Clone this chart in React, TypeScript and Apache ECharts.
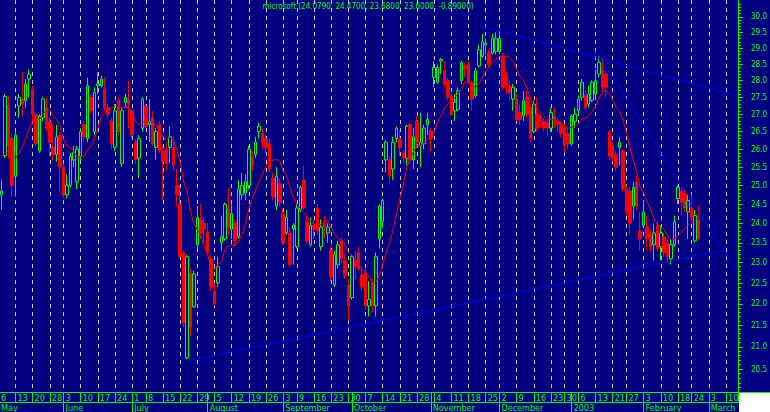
import React, { useEffect, useRef } from "react";
import * as echarts from "echarts";

const TITLE = "microsoft (24.0790, 24.4700, 23.6800, 23.6000, -0.89000)";
const FIRST_DAY = "2002-05-07";
const LAST_DAY = "2003-03-13";
const HOLIDAYS = ["2002-05-27", "2002-07-04", "2002-09-02", "2002-11-28", "2002-12-25", "2003-01-01", "2003-01-20", "2003-02-17"];
const MONTH_LABELS = ["2003", "February", "March", "April", "May", "June", "July", "August", "September", "October", "November", "December"];
const Y_TICKS = [20.5, 21.0, 21.5, 22.0, 22.5, 23.0, 23.5, 24.0, 24.5, 25.0, 25.5, 26.0, 26.5, 27.0, 27.5, 28.0, 28.5, 29.0, 29.5, 30.0];
const Y_MIN = 20.0;
const Y_MAX = 30.55;
const MA_PERIOD = 10;
const PRIOR_CLOSES = [26.6, 26.4, 26.4, 26.2, 26.1, 25.7, 25.5, 25.3, 25.1];

const OPEN = [
  24.75, 25.82, 27.26, 26.30, 25.25, 27.25, 27.45, 27.40, 28.05, 27.75,
  27.00, 25.95, 26.90, 27.20, 26.80, 26.05, 25.85, 26.40, 25.50, 24.75,
  25.00, 25.70, 25.10, 25.80, 26.70, 26.30, 27.50, 26.50, 27.85, 27.85,
  27.75, 27.20, 26.80, 26.05, 27.40, 25.60, 27.35, 27.40, 27.10, 26.20,
  25.75, 26.60, 27.25, 26.70, 26.90, 26.05, 26.70, 25.95, 26.00, 26.05,
  26.05, 25.00, 24.50, 23.25, 20.75, 22.75, 21.93, 23.45, 24.08, 24.00,
  23.78, 23.08, 22.30, 22.50, 23.50, 23.60, 24.40, 23.85, 24.00, 23.65,
  24.75, 24.80, 25.00, 25.80, 25.85, 26.50, 26.45, 26.30, 26.15, 25.20,
  24.45, 25.05, 24.25, 23.75, 23.75, 23.85, 23.40, 24.35, 25.15, 24.05,
  23.45, 23.95, 24.40, 23.40, 24.00, 23.75, 23.30, 22.45, 22.95, 23.55,
  23.05, 22.45, 22.15, 23.05, 23.25, 22.70, 22.75, 21.95, 22.50, 21.95,
  23.60, 24.05, 25.70, 25.70, 25.45, 26.30, 26.30, 25.90, 25.75, 26.70,
  25.70, 26.80, 26.10, 26.15, 26.70, 26.50, 28.10, 27.95, 28.60, 28.30,
  28.00, 27.55, 27.10, 27.15, 28.00, 28.45, 28.50, 27.95, 27.55, 28.45,
  28.75, 29.10, 28.85, 28.85, 28.90, 28.90, 28.75, 28.15, 27.85, 27.45,
  27.45, 27.05, 26.95, 27.50, 27.20, 26.50, 27.00, 26.95, 26.80, 26.75,
  26.60, 26.95, 26.80, 26.70, 26.60, 26.45, 26.15, 26.80, 27.10, 27.50,
  27.55, 27.30, 27.40, 27.60, 28.20, 28.30, 28.20, 26.50, 26.10, 25.85,
  26.05, 25.95, 24.90, 24.85, 24.45, 25.10, 23.80, 23.95, 23.90, 23.70,
  23.45, 23.95, 23.40, 23.65, 23.50, 23.10, 23.45, 24.65, 24.85, 24.80,
  24.30, 24.40, 23.55, 24.08,
];
const CLOSE = [
  24.85, 27.53, 26.10, 25.00, 26.40, 27.50, 27.30, 27.90, 28.20, 27.00,
  26.15, 26.95, 27.45, 26.60, 26.20, 25.85, 26.35, 25.50, 24.75, 25.00,
  25.80, 25.90, 26.00, 26.50, 26.35, 27.85, 27.10, 27.65, 27.90, 28.05,
  27.20, 27.00, 26.15, 27.10, 26.50, 27.10, 27.50, 27.30, 26.40, 25.70,
  26.30, 27.45, 26.65, 26.80, 26.15, 26.50, 25.95, 25.65, 25.60, 26.35,
  25.55, 24.75, 23.15, 21.55, 23.15, 21.45, 22.72, 24.15, 23.75, 23.85,
  23.25, 22.40, 22.00, 22.90, 23.65, 24.50, 23.90, 24.25, 23.55, 24.90,
  25.00, 25.10, 26.00, 25.55, 26.20, 26.65, 26.20, 26.05, 25.45, 24.70,
  25.25, 24.55, 23.50, 24.15, 22.95, 23.95, 24.40, 24.95, 24.40, 23.55,
  23.95, 23.85, 23.80, 23.90, 23.90, 23.90, 22.65, 23.20, 23.45, 23.10,
  22.70, 21.95, 23.15, 22.90, 22.85, 22.40, 21.95, 22.10, 21.95, 23.15,
  24.45, 24.60, 26.20, 25.25, 26.20, 26.60, 26.05, 25.75, 26.65, 25.70,
  26.35, 26.20, 26.20, 26.60, 26.85, 26.30, 28.40, 28.40, 28.65, 27.90,
  27.50, 27.00, 27.35, 27.70, 28.55, 28.35, 27.95, 27.45, 28.30, 28.95,
  29.20, 29.15, 28.50, 29.30, 29.30, 29.30, 27.80, 27.85, 27.65, 27.80,
  26.85, 26.85, 27.40, 27.00, 26.30, 27.30, 26.60, 26.80, 26.60, 26.60,
  27.05, 26.85, 26.70, 26.45, 26.10, 26.15, 26.95, 27.00, 27.45, 27.95,
  27.20, 27.60, 27.95, 28.00, 28.55, 27.80, 27.80, 25.80, 25.75, 25.50,
  26.20, 24.90, 24.30, 24.00, 24.95, 24.45, 23.60, 24.30, 23.60, 23.40,
  23.75, 23.35, 23.75, 23.25, 23.15, 23.45, 24.05, 24.95, 24.55, 24.40,
  24.60, 24.15, 24.20, 23.60,
];
const LOW = [
  24.35, 25.75, 25.74, 24.70, 24.70, 26.90, 26.95, 27.20, 27.50, 26.80,
  26.10, 25.90, 26.80, 26.50, 25.80, 25.70, 25.65, 24.85, 24.65, 24.65,
  24.95, 25.50, 24.90, 25.70, 26.20, 26.20, 27.00, 26.40, 27.60, 27.80,
  27.10, 26.90, 26.00, 25.95, 26.40, 25.50, 27.20, 26.60, 26.30, 25.60,
  25.20, 26.50, 26.60, 26.20, 26.10, 25.70, 25.90, 24.60, 25.40, 25.60,
  25.40, 24.45, 23.10, 21.45, 20.72, 21.25, 21.90, 23.35, 23.60, 23.50,
  23.20, 22.30, 21.95, 22.40, 23.30, 23.55, 23.70, 23.60, 23.45, 23.60,
  24.60, 24.60, 24.90, 25.40, 25.75, 26.30, 26.00, 25.90, 25.35, 24.60,
  24.35, 24.45, 23.45, 23.70, 22.90, 22.95, 23.35, 24.30, 24.35, 23.50,
  23.40, 23.60, 23.70, 23.30, 23.60, 23.50, 22.55, 22.40, 22.85, 23.00,
  22.60, 21.60, 22.10, 22.60, 22.80, 22.30, 21.85, 21.70, 21.80, 21.70,
  23.35, 23.90, 25.35, 25.05, 25.15, 26.20, 25.80, 25.60, 25.55, 25.60,
  25.45, 26.05, 25.50, 26.00, 26.40, 25.95, 27.80, 27.90, 28.20, 27.80,
  27.40, 26.95, 26.80, 27.10, 27.90, 28.10, 27.90, 27.10, 27.50, 28.40,
  28.70, 28.80, 28.40, 28.80, 28.80, 28.80, 27.70, 27.60, 27.40, 27.10,
  26.80, 26.70, 26.80, 26.90, 26.20, 26.45, 26.50, 26.60, 26.50, 26.40,
  26.50, 26.60, 26.50, 26.35, 25.90, 26.00, 26.10, 26.60, 27.00, 27.40,
  27.10, 27.20, 27.35, 27.50, 28.10, 27.60, 27.50, 25.70, 25.65, 25.40,
  25.55, 24.85, 24.20, 23.70, 24.10, 24.35, 23.30, 23.90, 23.30, 23.25,
  23.05, 23.30, 23.05, 23.15, 23.00, 22.95, 23.40, 24.50, 24.20, 24.30,
  23.60, 24.10, 23.50, 23.58,
];
const HIGH = [
  25.15, 27.60, 27.55, 26.45, 26.50, 27.60, 28.25, 28.05, 28.35, 27.85,
  27.05, 27.00, 27.50, 27.50, 26.90, 26.70, 26.70, 26.50, 25.60, 25.30,
  25.90, 26.10, 26.10, 26.60, 26.80, 28.10, 27.60, 27.80, 28.25, 28.15,
  28.10, 27.30, 26.90, 27.30, 27.50, 27.20, 27.60, 28.00, 27.20, 26.30,
  26.40, 27.50, 27.30, 27.45, 27.10, 26.60, 26.80, 26.10, 26.20, 26.65,
  26.35, 25.45, 25.00, 23.30, 23.20, 22.85, 22.80, 24.45, 24.50, 24.15,
  24.00, 23.20, 22.50, 23.15, 24.20, 24.55, 24.95, 24.50, 24.10, 25.15,
  25.35, 25.30, 26.10, 25.95, 26.35, 26.75, 26.60, 26.40, 26.30, 25.35,
  25.50, 25.20, 24.40, 24.35, 23.90, 24.00, 24.50, 25.00, 25.55, 24.20,
  24.15, 24.10, 24.50, 24.10, 24.20, 24.00, 23.40, 23.30, 23.55, 23.65,
  23.20, 22.60, 23.20, 23.30, 23.40, 22.90, 22.85, 22.55, 22.60, 23.25,
  24.50, 24.65, 26.25, 25.80, 26.35, 26.65, 26.55, 26.00, 26.70, 26.75,
  26.60, 26.95, 27.05, 26.70, 27.05, 26.60, 28.60, 28.50, 28.70, 28.60,
  28.10, 27.60, 27.60, 27.80, 28.60, 28.55, 28.60, 28.00, 28.40, 29.10,
  29.45, 29.30, 28.95, 29.45, 29.50, 29.55, 28.85, 28.30, 28.00, 27.90,
  27.60, 27.30, 27.70, 27.70, 27.30, 27.40, 27.50, 27.00, 26.90, 26.85,
  27.20, 27.20, 26.90, 26.80, 26.70, 26.60, 27.00, 27.20, 27.55, 28.05,
  27.70, 27.85, 28.00, 28.35, 28.75, 28.70, 28.30, 26.55, 26.20, 25.95,
  26.35, 26.00, 25.00, 24.95, 25.10, 25.25, 24.30, 24.60, 24.20, 23.85,
  24.00, 24.05, 23.95, 23.75, 23.60, 23.60, 24.20, 25.00, 24.95, 24.90,
  24.75, 24.75, 24.35, 24.47,
];

const TREND_LINES: [string, number, string, number][] = [
  ["2002-07-24", 20.68, "2003-03-10", 23.33],
  ["2002-11-21", 29.73, "2003-03-13", 27.55],
  ["2003-01-13", 28.93, "2003-03-13", 22.8],
];

const NAVY = "#000080";
const GREEN = "#00ff00";
const RED = "#ff0000";
const BLUE = "#0000ff";
const DASH = "#c8c8c8";
const FONT = "'Liberation Sans Narrow', 'DejaVu Sans Condensed', 'Liberation Sans', sans-serif";

function tradingDays(): string[] {
  const out: string[] = [];
  const d = new Date(FIRST_DAY + "T12:00:00Z");
  const end = new Date(LAST_DAY + "T12:00:00Z");
  while (d.getTime() <= end.getTime()) {
    const wd = d.getUTCDay();
    const s = d.toISOString().slice(0, 10);
    if (wd !== 0 && wd !== 6 && HOLIDAYS.indexOf(s) < 0) out.push(s);
    d.setUTCDate(d.getUTCDate() + 1);
  }
  return out;
}

export default function App() {
  const ref = useRef<HTMLDivElement>(null);
  useEffect(() => {
    document.body.style.margin = "0";
    if (!ref.current) return;
    const chart = echarts.init(ref.current, undefined, { renderer: "svg" });
    const dates = tradingDays();
    const dow = (s: string) => new Date(s + "T12:00:00Z").getUTCDay();
    const weekStart = dates.map((s, i) => i > 0 && dow(s) <= dow(dates[i - 1]));
    const monthStart = dates.map((s, i) => i > 0 && s.slice(5, 7) !== dates[i - 1].slice(5, 7));
    const ln = Math.log;

    const candles = OPEN.map((o, i) => [ln(o), ln(CLOSE[i]), ln(LOW[i]), ln(HIGH[i])]);
    const all = PRIOR_CLOSES.concat(CLOSE);
    const ma = CLOSE.map((_, i) => {
      const j = i + PRIOR_CLOSES.length;
      const start = Math.max(0, j - MA_PERIOD + 1);
      const w = all.slice(start, j + 1);
      return ln(w.reduce((a, b) => a + b, 0) / w.length);
    });
    const minor: number[] = [];
    for (let k = Math.ceil(Y_MIN * 10); k <= Math.floor(Y_MAX * 10); k++) {
      if (k % 5 !== 0) minor.push(ln(k / 10));
    }
    const major = Y_TICKS.map(ln);

    const trendSeries = TREND_LINES.map(([d1, p1, d2, p2]) => ({
      type: "line",
      xAxisIndex: 0,
      yAxisIndex: 0,
      data: [[dates.indexOf(d1), ln(p1)], [dates.indexOf(d2), ln(p2)]],
      symbol: "none",
      silent: true,
      lineStyle: { color: BLUE, width: 1 },
      z: 4,
    }));

    const gridBox = { left: 0, right: 32, top: 0, bottom: 20, outerBoundsMode: "none" };

    chart.setOption({
      animation: false,
      backgroundColor: NAVY,
      grid: [{ ...gridBox }, { ...gridBox }],
      xAxis: [
        {
          type: "category",
          gridIndex: 0,
          data: dates,
          boundaryGap: true,
          position: "bottom",
          axisLine: { show: true, lineStyle: { color: GREEN, width: 1 } },
          axisTick: {
            show: true,
            alignWithLabel: true,
            interval: (i: number) => weekStart[i] || monthStart[i],
            length: 10,
            lineStyle: { color: GREEN, width: 1 },
          },
          axisLabel: {
            interval: (i: number) => weekStart[i],
            formatter: (v: string) => String(Number(v.slice(8))),
            color: GREEN,
            fontSize: 9,
            fontFamily: FONT,
            align: "left",
            padding: [0, 0, 0, 2],
            margin: 1,
            verticalAlign: "top",
          },
          splitLine: {
            show: true,
            alignWithLabel: true,
            interval: (i: number) => weekStart[i],
            lineStyle: { color: DASH, width: 1, type: [4, 4] },
          },
        },
        {
          type: "category",
          gridIndex: 1,
          data: dates,
          boundaryGap: true,
          position: "bottom",
          offset: 10,
          axisLine: { show: true, lineStyle: { color: GREEN, width: 1 } },
          axisTick: {
            show: true,
            alignWithLabel: true,
            interval: (i: number) => monthStart[i],
            length: 10,
            lineStyle: { color: GREEN, width: 1 },
          },
          axisLabel: {
            interval: (i: number) => monthStart[i],
            formatter: (v: string) => {
              const m = Number(v.slice(5, 7));
              return m === 1 ? v.slice(0, 4) : MONTH_LABELS[m - 1];
            },
            color: GREEN,
            fontSize: 9,
            fontFamily: FONT,
            align: "left",
            padding: [0, 0, 0, 2],
            margin: 1,
            verticalAlign: "top",
          },
          splitLine: { show: false },
        },
      ],
      yAxis: [
        {
          type: "value",
          gridIndex: 0,
          position: "right",
          min: ln(Y_MIN),
          max: ln(Y_MAX),
          axisLine: { show: true, lineStyle: { color: GREEN, width: 1 } },
          axisTick: { show: true, customValues: major, length: 5, lineStyle: { color: GREEN, width: 1 } },
          axisLabel: {
            show: true,
            customValues: major,
            formatter: (v: number) => Math.exp(v).toFixed(1),
            color: GREEN,
            fontSize: 8,
            fontFamily: FONT,
            margin: 13,
            align: "left",
          },
          splitLine: { show: false },
        },
        {
          type: "value",
          gridIndex: 1,
          position: "right",
          min: ln(Y_MIN),
          max: ln(Y_MAX),
          axisLine: { show: false },
          axisTick: { show: true, customValues: minor, length: 3, lineStyle: { color: GREEN, width: 1 } },
          axisLabel: { show: false },
          splitLine: { show: false },
        },
      ],
      series: [
        {
          type: "candlestick",
          xAxisIndex: 0,
          yAxisIndex: 0,
          data: candles,
          barWidth: 3,
          itemStyle: {
            color: NAVY,
            color0: RED,
            borderColor: GREEN,
            borderColor0: RED,
            borderWidth: 1,
          },
          z: 2,
        },
        {
          type: "line",
          xAxisIndex: 0,
          yAxisIndex: 0,
          data: ma,
          symbol: "none",
          silent: true,
          lineStyle: { color: RED, width: 1 },
          z: 3,
        },
        ...trendSeries,
      ],
      graphic: [
        {
          type: "text",
          x: 368,
          y: 2,
          style: { text: TITLE, fill: GREEN, fontSize: 8, fontFamily: FONT, align: "center", verticalAlign: "top" },
        },
        {
          type: "text",
          x: 1,
          y: 393,
          style: { text: "6", fill: GREEN, fontSize: 9, fontFamily: FONT, align: "left", verticalAlign: "top" },
        },
        {
          type: "text",
          x: 1,
          y: 403,
          style: { text: "May", fill: GREEN, fontSize: 9, fontFamily: FONT, align: "left", verticalAlign: "top" },
        },
        { type: "rect", shape: { x: 739, y: 393, width: 31, height: 19 }, style: { fill: "#ffffff" } },
        { type: "line", shape: { x1: 738, y1: 392.5, x2: 770, y2: 392.5 }, style: { stroke: GREEN, lineWidth: 1 } },
        { type: "line", shape: { x1: 738.5, y1: 392, x2: 738.5, y2: 402 }, style: { stroke: GREEN, lineWidth: 1 } },
      ],
    });
    return () => chart.dispose();
  }, []);
  return <div ref={ref} style={{ width: 770, height: 412 }} />;
}
